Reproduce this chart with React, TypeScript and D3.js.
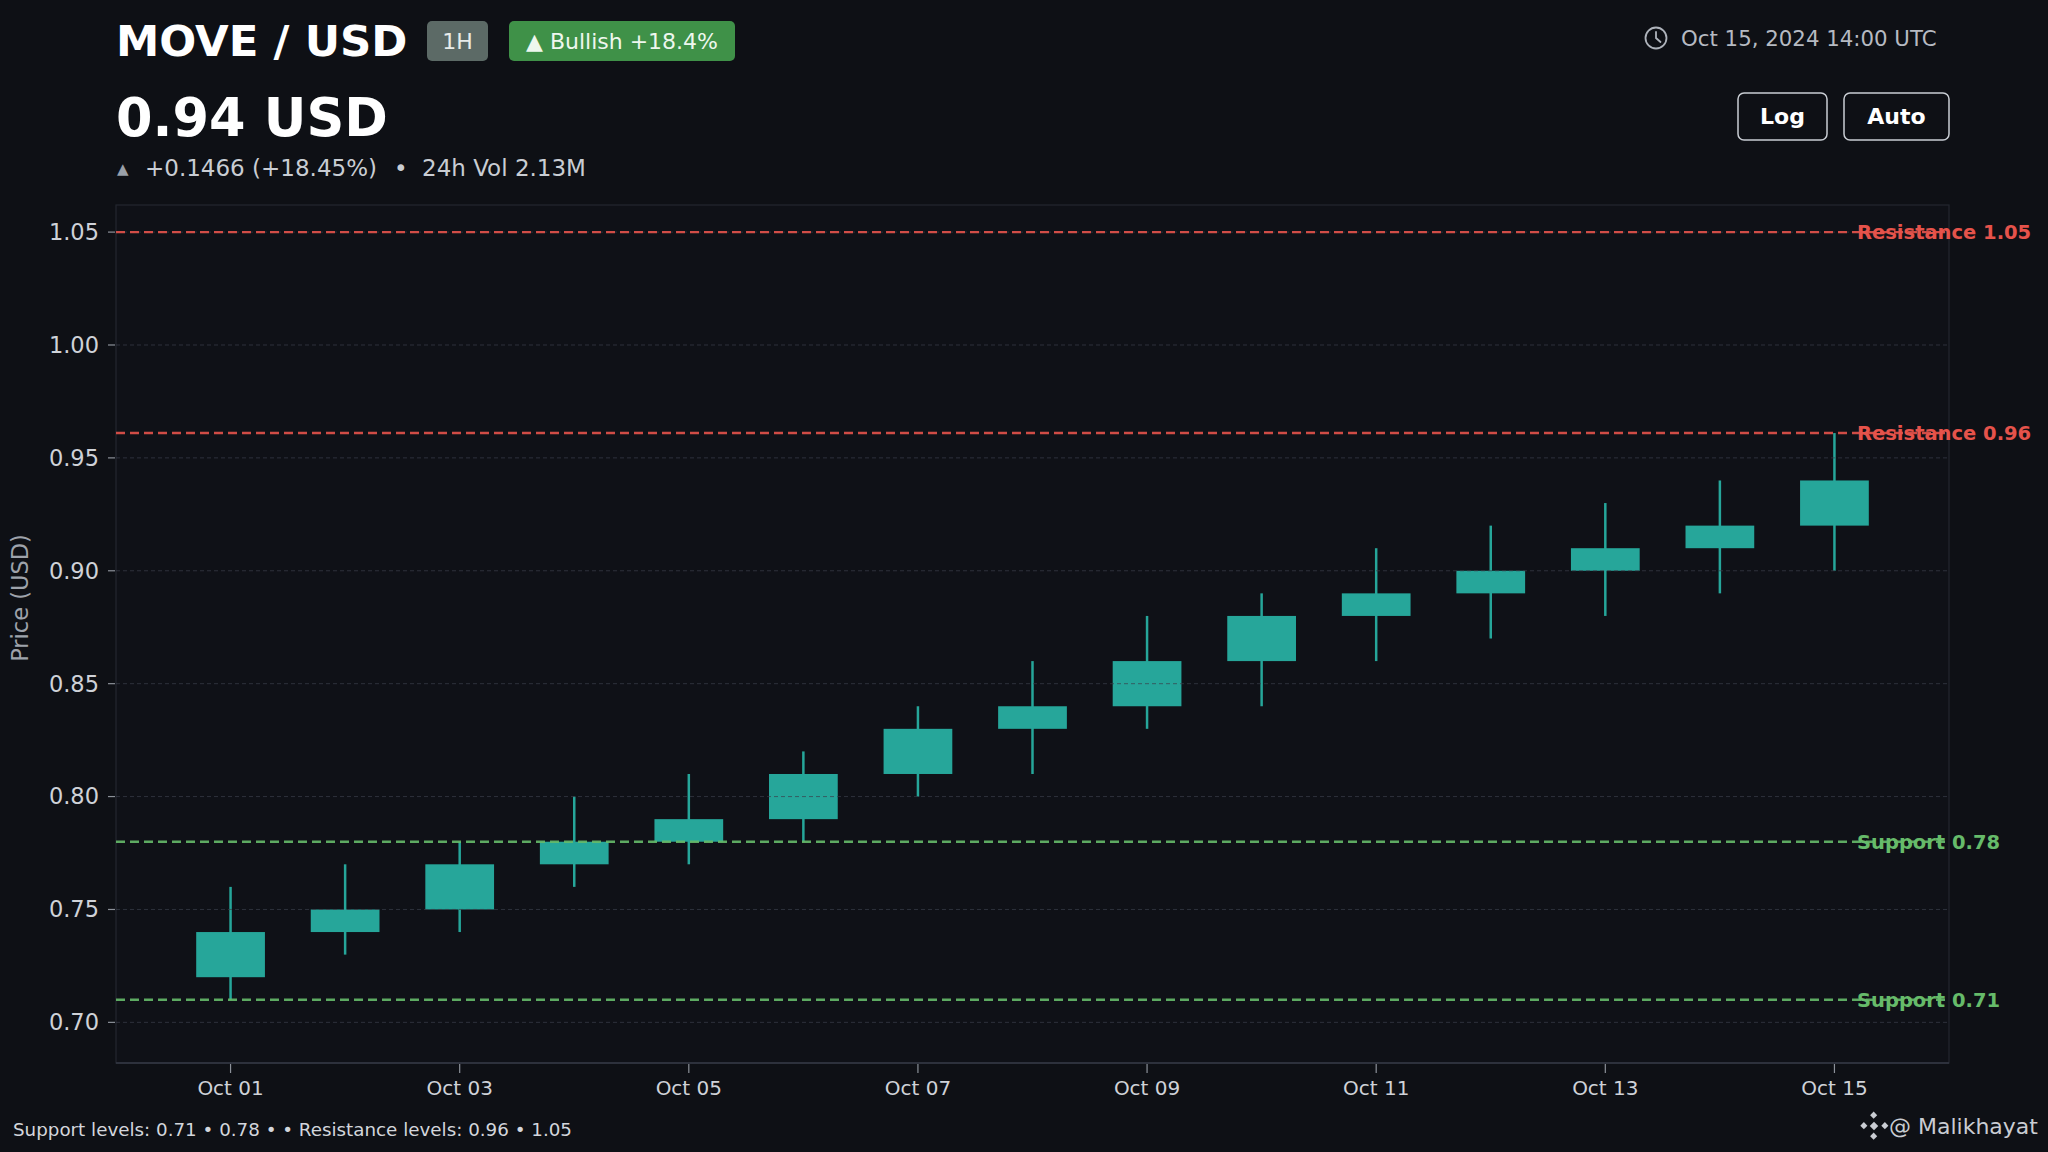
import { useEffect } from "react"
import * as d3 from "d3"

// candle data, one per day in October 2024
const days = ["2024-10-01", "2024-10-02", "2024-10-03", "2024-10-04", "2024-10-05", "2024-10-06", "2024-10-07", "2024-10-08", "2024-10-09", "2024-10-10", "2024-10-11", "2024-10-12", "2024-10-13", "2024-10-14", "2024-10-15"]
const opens = [0.72, 0.74, 0.75, 0.77, 0.78, 0.79, 0.81, 0.83, 0.84, 0.86, 0.88, 0.89, 0.9, 0.91, 0.92]
const closes = [0.74, 0.75, 0.77, 0.78, 0.79, 0.81, 0.83, 0.84, 0.86, 0.88, 0.89, 0.9, 0.91, 0.92, 0.94]
const highs = [0.76, 0.77, 0.78, 0.8, 0.81, 0.82, 0.84, 0.86, 0.88, 0.89, 0.91, 0.92, 0.93, 0.94, 0.961]
const lows = [0.71, 0.73, 0.74, 0.76, 0.77, 0.78, 0.8, 0.81, 0.83, 0.84, 0.86, 0.87, 0.88, 0.89, 0.9]

const supportLevels = [0.78, 0.71]
const resistanceLevels = [1.05, 0.961]

const yTicks = [0.7, 0.75, 0.8, 0.85, 0.9, 0.95, 1.0, 1.05]
const xTicks = ["2024-10-01", "2024-10-03", "2024-10-05", "2024-10-07", "2024-10-09", "2024-10-11", "2024-10-13", "2024-10-15"]
const xDomain = ["2024-09-30", "2024-10-16"]
const yDomain = [0.682, 1.062]

const W = 2048
const H = 1152
const margin = { top: 205, right: 99, bottom: 89, left: 116 }
const font = "'DejaVu Sans', sans-serif"

const UP = "#26a69a"
const RED = "#e5534b"
const GREEN = "#66bb6a"

export default function App() {
  useEffect(() => {
    document.body.style.margin = "0"
    document.body.style.background = "#0e1015"
  }, [])

  const parse = d3.utcParse("%Y-%m-%d")
  const x = d3
    .scaleUtc()
    .domain(xDomain.map((d) => parse(d) as Date))
    .range([margin.left, W - margin.right])
  const y = d3.scaleLinear().domain(yDomain).range([H - margin.bottom, margin.top])
  const fmtDay = d3.utcFormat("%b %d")

  const candles = days.map((d, i) => ({
    date: parse(d) as Date,
    open: opens[i],
    close: closes[i],
    high: highs[i],
    low: lows[i],
  }))

  const step = x(candles[1].date) - x(candles[0].date)
  const bodyW = step * 0.6
  const plotL = margin.left
  const plotR = W - margin.right
  const plotT = margin.top
  const plotB = H - margin.bottom

  const levels = [
    ...resistanceLevels.map((v) => ({ v, label: `Resistance ${v.toFixed(2)}`, color: RED })),
    ...supportLevels.map((v) => ({ v, label: `Support ${v.toFixed(2)}`, color: GREEN })),
  ]

  const footer = `Support levels: ${supportLevels
    .slice()
    .reverse()
    .map((v) => v.toFixed(2))
    .join(" • ")} • • Resistance levels: ${resistanceLevels
    .slice()
    .reverse()
    .map((v) => v.toFixed(2))
    .join(" • ")}`

  return (
    <div style={{ position: "fixed", left: 0, top: 0, width: W, height: H, background: "#0e1015" }}>
      <svg width={W} height={H} style={{ display: "block", fontFamily: font }}>
        <rect width={W} height={H} fill="#0e1015" />

        {/* Header */}
        <text x={116} y={56} fill="#ffffff" fontSize={43.5} fontWeight="bold">MOVE / USD</text>
        <rect x={427} y={21} width={61} height={40} rx={5} fill="#5c6a66" />
        <text x={457.5} y={49} fill="#e8ecea" fontSize={22} textAnchor="middle">1H</text>
        <rect x={509} y={21} width={226} height={40} rx={5} fill="#3f9148" />
        <text x={622} y={49} fill="#eef7ee" fontSize={22} textAnchor="middle">▲ Bullish +18.4%</text>

        <text x={116} y={136} fill="#ffffff" fontSize={52.5} fontWeight="bold">0.94 USD</text>
        <text x={117} y={174} fill="#9aa0a8" fontSize={15}>▲</text>
        <text y={176} fill="#c9cdd3" fontSize={23}>
          <tspan x={145}>+0.1466 (+18.45%)</tspan>
          <tspan x={394}>•</tspan>
          <tspan x={422}>24h Vol 2.13M</tspan>
        </text>

        {/* timestamp */}
        <g transform="translate(1656,38)" stroke="#aeb3bb" fill="none" strokeWidth={1.8}>
          <circle r={10.5} />
          <path d="M0,-6 V0 L4.5,4" strokeLinecap="round" />
        </g>
        <text x={1681} y={46} fill="#b6bac2" fontSize={21.3}>Oct 15, 2024 14:00 UTC</text>

        {/* buttons */}
        <rect x={1738} y={93} width={89} height={47} rx={6} fill="#0e1015" stroke="#c9cdd3" strokeWidth={1.5} />
        <text x={1782.5} y={124} fill="#ffffff" fontSize={22} fontWeight="bold" textAnchor="middle">Log</text>
        <rect x={1844} y={93} width={105} height={47} rx={6} fill="#0e1015" stroke="#c9cdd3" strokeWidth={1.5} />
        <text x={1896.5} y={124} fill="#ffffff" fontSize={22} fontWeight="bold" textAnchor="middle">Auto</text>

        {/* plot frame */}
        <rect x={plotL} y={plotT} width={plotR - plotL} height={plotB - plotT} fill="#0f1117" stroke="#23272f" strokeWidth={1.2} />

        {/* candles */}
        {candles.map((c) => {
          const cx = x(c.date)
          const top = y(Math.max(c.open, c.close))
          const bot = y(Math.min(c.open, c.close))
          return (
            <g key={c.date.toISOString()}>
              <line x1={cx} x2={cx} y1={y(c.high)} y2={y(c.low)} stroke={UP} strokeWidth={2.5} />
              <rect x={cx - bodyW / 2} y={top} width={bodyW} height={bot - top} fill={UP} />
            </g>
          )
        })}

        {/* grid */}
        {yTicks.map((t) => (
          <line key={t} x1={plotL} x2={plotR} y1={y(t)} y2={y(t)} stroke="#3a3f4c" strokeOpacity={0.7} strokeWidth={1} strokeDasharray="4 3" />
        ))}

        {/* y axis */}
        {yTicks.map((t) => (
          <g key={t} transform={`translate(0,${y(t)})`}>
            <line x1={plotL - 8} x2={plotL - 1} stroke="#8c9199" strokeWidth={1.2} />
            <text x={plotL - 17} dy="0.35em" fill="#cfd2d8" fontSize={22.5} textAnchor="end">
              {t.toFixed(2)}
            </text>
          </g>
        ))}
        <text transform="translate(28,598) rotate(-90)" fill="#9ea3ab" fontSize={22.5} textAnchor="middle">
          Price (USD)
        </text>

        {/* x axis */}
        <line x1={plotL} x2={plotR} y1={plotB} y2={plotB} stroke="#343944" strokeWidth={1.5} />
        {xTicks.map((t) => {
          const d = parse(t) as Date
          return (
            <g key={t} transform={`translate(${x(d)},${plotB})`}>
              <line y1={1} y2={10} stroke="#8c9199" strokeWidth={1.2} />
              <text y={32} fill="#cfd2d8" fontSize={20} textAnchor="middle">
                {fmtDay(d)}
              </text>
            </g>
          )
        })}

        {/* support / resistance */}
        {levels.map((l) => (
          <g key={l.label}>
            <line x1={plotL} x2={plotR} y1={y(l.v)} y2={y(l.v)} stroke={l.color} strokeOpacity={0.9} strokeWidth={2.4} strokeDasharray="9 5" />
            <text x={1857} y={y(l.v)} dy="0.35em" fill={l.color} fontSize={19.5} fontWeight="bold">
              {l.label}
            </text>
          </g>
        ))}

        {/* footer */}
        <text x={13} y={1136} fill="#d3d6dc" fontSize={18.3}>
          {footer}
        </text>
        <g transform="translate(1874,1126)" fill="#c9ccd2">
          <rect x={-3} y={-3} width={6} height={6} transform="rotate(45)" />
          <rect x={-3} y={-13} width={5} height={5} transform="rotate(45 0 -10.5)" />
          <rect x={-3} y={8} width={5} height={5} transform="rotate(45 0 10.5)" />
          <rect x={-13} y={-3} width={5} height={5} transform="rotate(45 -10.5 0)" />
          <rect x={8} y={-3} width={5} height={5} transform="rotate(45 10.5 0)" />
        </g>
        <text x={1889} y={1134} fill="#c9ccd2" fontSize={22}>@ Malikhayat</text>
      </svg>
    </div>
  )
}
